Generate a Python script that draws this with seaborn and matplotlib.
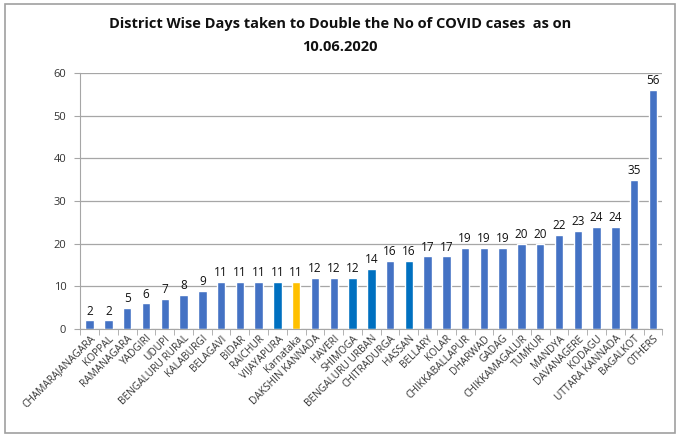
import matplotlib
matplotlib.use('Agg')
import matplotlib.pyplot as plt
import seaborn as sns
from pandas import DataFrame
from matplotlib.patches import Rectangle

# data
districts = ['CHAMARAJANAGARA', 'KOPPAL', 'RAMANAGARA', 'YADGIRI', 'UDUPI',
             'BENGALURU RURAL', 'KALABURGI', 'BELAGAVI', 'BIDAR', 'RAICHUR',
             'VIJAYAPURA', 'Karnataka', 'DAKSHIN KANNADA', 'HAVERI', 'SHIMOGA',
             'BENGALURU URBAN', 'CHITRADURGA', 'HASSAN', 'BELLARY', 'KOLAR',
             'CHIKKABALLAPUR', 'DHARWAD', 'GADAG', 'CHIKKAMAGALUR', 'TUMKUR',
             'MANDYA', 'DAVANAGERE', 'KODAGU', 'UTTARA KANNADA', 'BAGALKOT',
             'OTHERS']
days = [2, 2, 5, 6, 7, 8, 9, 11, 11, 11, 11, 11, 12, 12, 12, 14, 16, 16,
        17, 17, 19, 19, 19, 20, 20, 22, 23, 24, 24, 35, 56]
dark_bars = ['VIJAYAPURA', 'SHIMOGA', 'BENGALURU URBAN', 'HASSAN']
state_bar = 'Karnataka'

# colours
base_color = '#4472C4'
dark_color = '#0070C0'
state_color = '#FFC000'

colors = []
for d in districts:
    if d == state_bar:
        colors.append(state_color)
    elif d in dark_bars:
        colors.append(dark_color)
    else:
        colors.append(base_color)

data = DataFrame({'district': districts, 'days': days})

sns.set_style('white')
plt.rcParams['font.family'] = ['Open Sans', 'DejaVu Sans']

fig = plt.figure(figsize=(6.8, 4.38), dpi=100)
ax = fig.add_axes([0.118, 0.249, 0.856, 0.584])

sns.barplot(data=data, x='district', y='days', hue='district',
            palette=colors, legend=False, width=0.45, saturation=1, ax=ax)

# value labels
for container in ax.containers:
    ax.bar_label(container, padding=2, fontsize=8.5, color='#111111')

ax.set_ylim(0, 60)
ax.set_xlim(-0.5, len(districts) - 0.5)
ax.set_yticks(range(0, 61, 10))
ax.yaxis.grid(True, color='#A6A6A6', linewidth=0.9)
ax.set_axisbelow(True)
ax.set_xlabel('')
ax.set_ylabel('')

for side in ['top', 'right']:
    ax.spines[side].set_visible(False)
ax.spines['left'].set_color('#A6A6A6')
ax.spines['bottom'].set_color('#A6A6A6')

ax.tick_params(axis='y', labelsize=8, colors='#333333', length=4,
               color='#A6A6A6', left=True, pad=6)
ax.tick_params(axis='x', labelsize=7.3, colors='#333333', length=0, pad=3)
ax.set_xticks(range(len(districts)))
ax.set_xticklabels(districts, rotation=45, ha='right', rotation_mode='anchor')
ax.set_xticks([i + 0.5 for i in range(-1, len(districts))], minor=True)
ax.tick_params(axis='x', which='minor', length=4, color='#A6A6A6', bottom=True)

fig.text(0.5, 0.945, 'District Wise Days taken to Double the No of COVID cases  as on',
         ha='center', va='center', fontsize=10.5, fontweight='bold', color='#111111')
fig.text(0.5, 0.893, '10.06.2020', ha='center', va='center', fontsize=10.5,
         fontweight='bold', color='#111111')

# outer frame
fig.patches.append(Rectangle((0.008, 0.012), 0.985, 0.978, transform=fig.transFigure,
                             fill=False, edgecolor='#A0A0A0', linewidth=1.2))

fig.savefig('out.png', dpi=100)
plt.close()
